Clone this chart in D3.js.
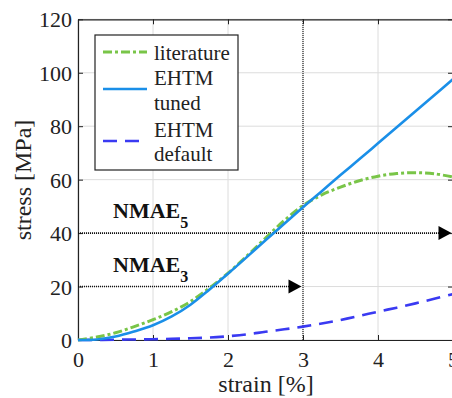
<!DOCTYPE html>
<html><head><meta charset="utf-8">
<script src="https://cdn.jsdelivr.net/npm/d3@7"></script>
<style>body{margin:0;background:#fff}svg{display:block}</style>
</head><body><svg id="c" width="452" height="398"></svg>
<script>
const strain = [0,0.25,0.5,0.75,1,1.25,1.5,1.75,2,2.25,2.5,2.75,3,3.25,3.5,3.75,4,4.25,4.5,4.75,5];
const literature = [0,1.1,2.7,5.0,7.6,10.6,14.4,19.4,25.0,31.4,38.1,44.7,50.3,54.3,57.2,59.6,61.3,62.3,62.6,62.2,61.0];
const ehtmTuned = [0,0.2,1.3,3.2,5.5,8.8,13.2,18.8,24.8,31.0,37.3,43.5,49.7,55.7,61.7,67.6,73.6,79.6,85.6,91.6,97.6];
const ehtmDefault = [0,0.05,0.1,0.2,0.3,0.45,0.65,0.9,1.4,2.1,3.1,4.0,5.0,6.2,7.5,9.0,10.6,12.1,13.7,15.4,17.2];
const xTicks = [0,1,2,3,4,5];
const yTicks = [0,20,40,60,80,100,120];
const legendLabels = [["literature"],["EHTM","tuned"],["EHTM","default"]];

const svg = d3.select("#c");
const x = d3.scaleLinear().domain([0,5]).range([78,453]);
const y = d3.scaleLinear().domain([0,120]).range([340,19.3]);
const font = "'Times New Roman', Times, 'Liberation Serif', 'DejaVu Serif', serif";

// grid
svg.append("g").selectAll("line").data(xTicks).join("line")
  .attr("x1",d=>x(d)).attr("x2",d=>x(d)).attr("y1",y(0)).attr("y2",y(120))
  .attr("stroke","#dcdcdc").attr("stroke-width",1);
svg.append("g").selectAll("line").data(yTicks).join("line")
  .attr("x1",x(0)).attr("x2",x(5)).attr("y1",d=>y(d)).attr("y2",d=>y(d))
  .attr("stroke","#dcdcdc").attr("stroke-width",1);

// axes
const xa = svg.append("g").attr("transform",`translate(0,${y(0)})`)
  .call(d3.axisBottom(x).tickValues(xTicks).tickFormat(d3.format("d")).tickSizeInner(-5).tickSizeOuter(0).tickPadding(11));
const ya = svg.append("g").attr("transform",`translate(${x(0)},0)`)
  .call(d3.axisLeft(y).tickValues(yTicks).tickSizeInner(-5).tickSizeOuter(0).tickPadding(6));
const xt = svg.append("g").attr("transform",`translate(0,${y(120)})`)
  .call(d3.axisTop(x).tickValues(xTicks).tickFormat("").tickSizeInner(-5).tickSizeOuter(0));
const yr = svg.append("g").attr("transform",`translate(${x(5)},0)`)
  .call(d3.axisRight(y).tickValues(yTicks).tickFormat("").tickSizeInner(-5).tickSizeOuter(0));
[xa,ya,xt,yr].forEach(g=>{
  g.attr("font-family",font).attr("font-size",22);
  g.selectAll("path").attr("stroke","#222").attr("stroke-width",1.2);
  g.selectAll("line").attr("stroke","#222");
  g.selectAll("text").attr("fill","#222").attr("font-family",font).attr("font-size",22);
});
xa.selectAll("text").attr("dy","0.71em");
ya.selectAll("text").attr("dy","0.34em");

// vertical dotted line at 3
svg.append("line").attr("x1",x(3)).attr("x2",x(3)).attr("y1",y(0)).attr("y2",y(120))
  .attr("stroke","#222").attr("stroke-width",1.2).attr("stroke-dasharray","1,1");

// arrows
const arrows = [{v:40,to:5,label:"5"},{v:20,to:3,label:"3"}];
arrows.forEach(a=>{
  const tip = x(a.to)-1.5;
  svg.append("line").attr("x1",x(0)).attr("x2",tip-12).attr("y1",y(a.v)).attr("y2",y(a.v))
    .attr("stroke","#111").attr("stroke-width",1.6).attr("stroke-dasharray","1,1");
  svg.append("path").attr("d",`M${tip},${y(a.v)} L${tip-13},${y(a.v)-7} L${tip-13},${y(a.v)+7} Z`).attr("fill","#000");
  const t = svg.append("text").attr("x",113).attr("y",y(a.v)-15)
    .attr("font-family",font).attr("font-size",22).attr("font-weight","bold").attr("fill","#111");
  t.append("tspan").text("NMAE");
  t.append("tspan").attr("dy",10).attr("font-size",16).text(a.label);
});

// curves
const line = vals => d3.line().x((d,i)=>x(strain[i])).y(d=>y(d)).curve(d3.curveCatmullRom.alpha(0.5))(vals);
svg.append("path").attr("d",line(ehtmDefault)).attr("fill","none").attr("stroke","#3a3af2")
  .attr("stroke-width",2.6).attr("stroke-dasharray","14,8");
svg.append("path").attr("d",line(literature)).attr("fill","none").attr("stroke","#79c548")
  .attr("stroke-width",3).attr("stroke-dasharray","9,3,3,3");
svg.append("path").attr("d",line(ehtmTuned)).attr("fill","none").attr("stroke","#1a8fe8")
  .attr("stroke-width",2.6);

// legend
const lg = svg.append("g");
lg.append("rect").attr("x",95).attr("y",35).attr("width",143).attr("height",135)
  .attr("fill","#fff").attr("stroke","#222").attr("stroke-width",1.2);
const legendStyles = [
  {color:"#79c548",dash:"9,3,3,3",w:3,ly:52,base:[60]},
  {color:"#1a8fe8",dash:null,w:2.6,ly:89,base:[85,110]},
  {color:"#3a3af2",dash:"14,8",w:2.6,ly:141,base:[137,161]}
];
legendStyles.forEach((s,i)=>{
  const l = lg.append("line").attr("x1",103).attr("x2",147).attr("y1",s.ly).attr("y2",s.ly)
    .attr("stroke",s.color).attr("stroke-width",s.w);
  if(s.dash) l.attr("stroke-dasharray",s.dash);
  legendLabels[i].forEach((txt,j)=>{
    lg.append("text").attr("x",154).attr("y",s.base[j]).text(txt)
      .attr("font-family",font).attr("font-size",21).attr("fill","#222");
  });
});

// axis labels
svg.append("text").attr("x",266).attr("y",392).attr("text-anchor","middle").text("strain [%]")
  .attr("font-family",font).attr("font-size",24).attr("fill","#222");
svg.append("text").attr("transform","translate(31,180) rotate(-90)").attr("text-anchor","middle")
  .text("stress [MPa]").attr("font-family",font).attr("font-size",24).attr("fill","#222");
</script></body></html>
